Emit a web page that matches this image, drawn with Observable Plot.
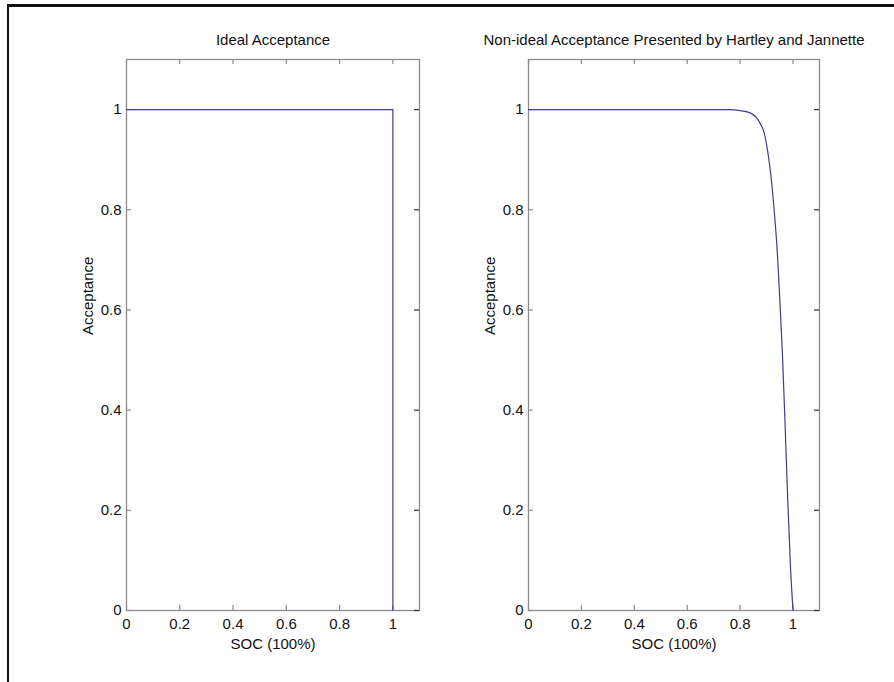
<!DOCTYPE html>
<html>
<head>
<meta charset="utf-8">
<script src="https://cdn.jsdelivr.net/npm/d3@7"></script>
<script src="https://cdn.jsdelivr.net/npm/@observablehq/plot@0.6"></script>
<style>
  html, body { margin: 0; padding: 0; background: #fff; }
  #wrap { position: relative; width: 894px; height: 682px; overflow: hidden; background: #fff; }
  #frameTop { position: absolute; left: 7px; top: 4px; width: 900px; height: 3px; background: #111; }
  #frameLeft { position: absolute; left: 7px; top: 4px; width: 2px; height: 700px; background: #111; }
  .panel { position: absolute; top: 0; }
</style>
</head>
<body>
<div id="wrap">
  <div id="frameTop"></div>
  <div id="frameLeft"></div>
  <div id="p1" class="panel" style="left:0px"></div>
  <div id="p2" class="panel" style="left:447px"></div>
</div>
<script>
// ---- data ----
const titles = ["Ideal Acceptance", "Non-ideal Acceptance Presented by Hartley and Jannette"];
const xLabel = "SOC (100%)";
const yLabel = "Acceptance";
const xTicks = [0, 0.2, 0.4, 0.6, 0.8, 1];
const yTicks = [0, 0.2, 0.4, 0.6, 0.8, 1];

// Ideal acceptance curve
const idealSOC = [0, 1, 1];
const idealAcc = [1, 1, 0];

// Non-ideal acceptance
const nonIdealSOC = [0, 0.76, 0.80, 0.84, 0.86, 0.88, 0.89, 0.90, 0.91, 0.92, 0.93, 0.94, 0.95, 0.96, 0.97, 0.98, 0.99, 1.0];
const nonIdealAcc = [1, 1, 0.998, 0.993, 0.985, 0.968, 0.955, 0.93, 0.895, 0.85, 0.79, 0.72, 0.62, 0.51, 0.37, 0.22, 0.09, 0];

const lineColor = "#3d3d92";
const axisColor = "#8c8c8c";
const font = "'Liberation Sans', Arial, Helvetica, sans-serif";

function panel(title, soc, acc, marginLeft, marginRight, curve) {
  const W = 447, H = 682, mt = 59, mb = 72;
  const innerW = W - marginLeft - marginRight;
  const innerH = H - mt - mb;
  const data = soc.map((s, i) => ({soc: s, acc: acc[i]}));
  return Plot.plot({
    width: W, height: H,
    marginLeft, marginRight, marginTop: mt, marginBottom: mb,
    style: {fontFamily: font, fontSize: "15px", color: "#111", background: "transparent", overflow: "visible"},
    x: {domain: [0, 1.1]},
    y: {domain: [0, 1.1]},
    marks: [
      Plot.frame({stroke: axisColor, strokeWidth: 1.3}),
      // inward ticks on all four sides
      Plot.ruleX(xTicks, {x: d => d, insetTop: innerH - 5, stroke: axisColor, strokeWidth: 1.2}),
      Plot.ruleX(xTicks, {x: d => d, insetBottom: innerH - 5, stroke: axisColor, strokeWidth: 1.2}),
      Plot.ruleY(yTicks, {y: d => d, insetRight: innerW - 5, stroke: axisColor, strokeWidth: 1.2}),
      Plot.ruleY(yTicks, {y: d => d, insetLeft: innerW - 5, stroke: "#333", strokeWidth: 1.2}),
      Plot.axisX({ticks: xTicks, tickSize: 0, tickPadding: 8, tickFormat: d => String(d), label: null, fill: "#111"}),
      Plot.axisY({ticks: yTicks, tickSize: 0, tickPadding: 5, tickFormat: d => String(d), label: null, fill: "#111"}),
      Plot.line(data, {x: "soc", y: "acc", stroke: lineColor, strokeWidth: 1.2, curve}),
      Plot.text([title], {frameAnchor: "top", dy: -19, lineAnchor: "middle", fontSize: 15, fill: "#111"}),
      Plot.text([xLabel], {frameAnchor: "bottom", dy: 34, lineAnchor: "middle", fontSize: 15, fill: "#111"}),
      Plot.text([yLabel], {frameAnchor: "left", dx: -38, rotate: -90, lineAnchor: "middle", fontSize: 15, fill: "#111"})
    ]
  });
}

document.getElementById("p1").appendChild(panel(titles[0], idealSOC, idealAcc, 126, 28, "linear"));
document.getElementById("p2").appendChild(panel(titles[1], nonIdealSOC, nonIdealAcc, 81, 75, "monotone-x"));
</script>
</body>
</html>
